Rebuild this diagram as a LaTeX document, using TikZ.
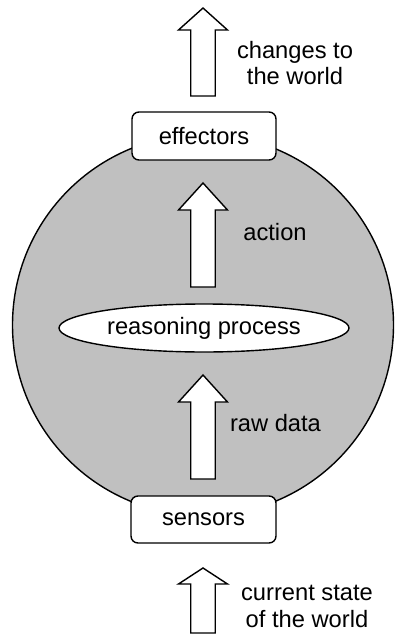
\documentclass[tikz,border=0pt]{standalone}
\usepackage{fontspec}
\setmainfont{Liberation Sans}
\usetikzlibrary{shapes.geometric}
\definecolor{agentgray}{HTML}{C0C0C0}
\tikzset{
  every node/.style={font=\fontsize{23.7}{26.5}\selectfont},
  outline/.style={draw=black, line width=1.4pt},
  devicebox/.style={outline, fill=white, rounded corners=7pt, inner sep=0pt},
  flowarrow/.style={outline, fill=white, line join=miter},
  label/.style={align=center, inner sep=0pt},
  % hollow block arrow: tip at the origin, head base at #1, tail at #2 (downwards)
  pics/uparrow/.style n args={2}{code={
    \draw[flowarrow] (0,0) -- (24.5,#1) -- (12.25,#1) -- (12.25,#2)
      -- (-12.25,#2) -- (-12.25,#1) -- (-24.5,#1) -- cycle;
  }}
}
\begin{document}
\begin{tikzpicture}[x=1pt, y=-1pt]
  \useasboundingbox (0,0) rectangle (394,635);

  % the agent body
  \node[outline, fill=agentgray, circle, minimum size=381pt, inner sep=0pt] (agent) at (203,325) {};

  % internal reasoning
  \node[outline, fill=white, ellipse, minimum width=290pt, minimum height=48pt, inner sep=0pt] (reason) at (204,328) {reasoning process};

  % flow arrows
  \pic at (203,8) {uparrow={22}{88}};
  \pic at (203,183) {uparrow={27}{104}};
  \pic at (203,375) {uparrow={27}{104}};
  \pic at (203,568) {uparrow={16}{65}};

  % effectors and sensors sit on the rim
  \node[devicebox, minimum width=144pt, minimum height=48pt] (effectors) at (204,136) {effectors};
  \node[devicebox, minimum width=145pt, minimum height=47pt] (sensors) at (203.5,519.5) {sensors};

  % labels
  \node[label] (changes) at (295,63) {changes to\\the world};
  \node[label] (action) at (275,232) {action};
  \node[label] (rawdata) at (275.5,423) {raw data};
  \node[label] (current) at (307,606.5) {current state\\of the world};
\end{tikzpicture}
\end{document}
